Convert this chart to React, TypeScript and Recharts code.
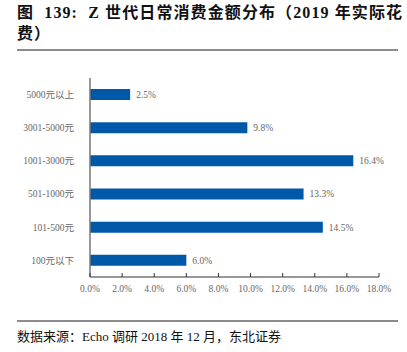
import React from "react";
import { Bar, BarChart, LabelList, XAxis, YAxis } from "recharts";

const categories = ["5000元以上", "3001-5000元", "1001-3000元", "501-1000元", "101-500元", "100元以下"];
const shares = [2.5, 9.8, 16.4, 13.3, 14.5, 6.0];
const xTicks = [0, 2, 4, 6, 8, 10, 12, 14, 16, 18];

const SERIF = '"Liberation Serif", "Times New Roman", "Noto Sans CJK SC", serif';
const CJK = '"Liberation Serif", "Noto Sans CJK SC", serif';

const data = categories.map((name, i) => ({ name, value: shares[i] }));

function XTick(props: any) {
  const { x, y, payload } = props;
  return (
    <g>
      <line x1={x} x2={x} y1={y - 4} y2={y} stroke="#333" strokeWidth={1} />
      <text x={x} y={y + 15} textAnchor="middle" fontSize={9.5} fill="#666" fontFamily={SERIF}>
        {payload.value.toFixed(1)}%
      </text>
    </g>
  );
}

export default function App() {
  return (
    <div
      style={{
        position: "fixed",
        left: 0,
        top: 0,
        width: 407,
        height: 352,
        background: "#fff",
        fontFamily: CJK,
      }}
    >
      <div
        style={{
          position: "absolute",
          left: 17,
          top: 2,
          width: 390,
          fontSize: 16,
          fontWeight: "bold",
          lineHeight: "21px",
          color: "#111",
          whiteSpace: "pre",
          letterSpacing: 1.1,
        }}
      >
        {"图  139:  Z 世代日常消费金额分布（2019 年实际花\n费）"}
      </div>
      <div style={{ position: "absolute", left: 17, top: 49, width: 381, height: 2, background: "#8c8c8c" }} />

      <div style={{ position: "absolute", left: 0, top: 0 }}>
        <BarChart
          width={407}
          height={352}
          data={data}
          layout="vertical"
          margin={{ top: 78, right: 28, bottom: 45, left: 0 }}
          barCategoryGap={0}
        >
          <XAxis
            type="number"
            domain={[0, 18]}
            ticks={xTicks}
            interval={0}
            tickLine={false}
            tickSize={0}
            tickMargin={0}
            height={30}
            axisLine={{ stroke: "#333", strokeWidth: 1.2 }}
            tick={<XTick />}
          />
          <YAxis
            type="category"
            dataKey="name"
            width={90}
            tickLine={false}
            tickMargin={10}
            axisLine={{ stroke: "#777", strokeWidth: 1.5 }}
            tick={{ fontSize: 9.5, fill: "#666", fontFamily: CJK }}
          />
          <Bar dataKey="value" fill="#0058a9" barSize={11} isAnimationActive={false}>
            <LabelList
              dataKey="value"
              position="right"
              offset={6}
              formatter={(v: any) => `${Number(v).toFixed(1)}%`}
              style={{ fontSize: 9.5, fill: "#666", fontFamily: SERIF }}
            />
          </Bar>
        </BarChart>
      </div>

      <div style={{ position: "absolute", left: 17, top: 320, width: 381, height: 2, background: "#8c8c8c" }} />
      <div
        style={{
          position: "absolute",
          left: 17,
          top: 326,
          fontSize: 13,
          color: "#111",
          whiteSpace: "nowrap",
        }}
      >
        数据来源：Echo 调研 2018 年 12 月，东北证券
      </div>
    </div>
  );
}
